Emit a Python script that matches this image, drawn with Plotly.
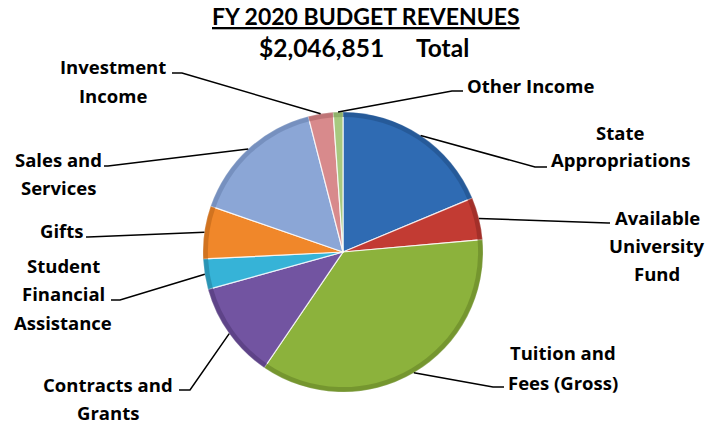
import math
import plotly.graph_objects as go

# Revenue sources, in thousands of dollars
categories = [
    "State Appropriations",
    "Available University Fund",
    "Tuition and Fees (Gross)",
    "Contracts and Grants",
    "Student Financial Assistance",
    "Gifts",
    "Sales and Services",
    "Investment Income",
    "Other Income",
]
values = [383000, 100000, 735000, 229000, 72000, 125000, 321000, 59000, 22851]
label_lines = [
    ["State", "Appropriations"],
    ["Available", "University", "Fund"],
    ["Tuition and", "Fees (Gross)"],
    ["Contracts and", "Grants"],
    ["Student", "Financial", "Assistance"],
    ["Gifts"],
    ["Sales and", "Services"],
    ["Investment", "Income"],
    ["Other Income"],
]
colors = ["#2F6BB3", "#C23B33", "#8CB23C", "#7254A1", "#36B3D7",
          "#F0872A", "#8BA6D6", "#D88A8C", "#A7C97F"]
rim_colors = ["#23548F", "#962B25", "#6C8B2A", "#563D7E", "#2689A7",
              "#C56B1C", "#6E88B6", "#B56B6D", "#86A862"]

W, H = 709, 424
CX, CY, R = 343, 252, 140  # pie centre and radius, px

# leader lines and label text: (elbow x, elbow y, tick end x, text centre x, first line y, line gap)
placement = [
    (535, 167, 547, 620, 133, 26),
    (608, 223, 610, 657, 217, 28),
    (493, 387, 504, 563, 352, 30),
    (190, 390, 179, 108, 384, 28),
    (120, 300, 111, 63, 265, 28.5),
    (88, 237, 86, 61, 230, 0),
    (108, 166, 104, 58, 159, 28),
    (182, 73, 172, 113, 67, 28),
    (452, 91, 463, 530, 85, 0),
]

LABEL_FONT = dict(family="'Open Sans', sans-serif", size=18.5, color="black")
TITLE_FONT = dict(family="Lato, sans-serif", size=23, color="black")
TOTAL_FONT = dict(family="Lato, sans-serif", size=24.5, color="black")


def px(x):
    return x / W


def py(y):
    return 1 - y / H


domain = dict(x=[px(CX - R), px(CX + R)], y=[py(CY + R), py(CY - R)])

fig = go.Figure()
fig.add_trace(go.Pie(
    labels=categories,
    values=values,
    sort=False,
    direction="clockwise",
    rotation=0,
    marker=dict(colors=colors, line=dict(color="rgba(255,255,255,0.8)", width=1.2)),
    textinfo="none",
    hoverinfo="label+value+percent",
    domain=domain,
    showlegend=False,
))
# darker outer rim for a bevelled look
fig.add_trace(go.Pie(
    labels=categories,
    values=values,
    sort=False,
    direction="clockwise",
    rotation=0,
    hole=0.965,
    marker=dict(colors=rim_colors, line=dict(width=0)),
    opacity=0.7,
    textinfo="none",
    hoverinfo="skip",
    domain=domain,
    showlegend=False,
))

total = sum(values)
shapes = []
annotations = []
cum = 0
for val, lines, (ex, ey, hx, tx, ty, gap) in zip(values, label_lines, placement):
    mid = (cum + val / 2) / total * 2 * math.pi
    cum += val
    sx = CX + R * math.sin(mid)
    sy = CY - R * math.cos(mid)
    shapes.append(dict(
        type="path", xref="paper", yref="paper",
        path=f"M {px(sx)} {py(sy)} L {px(ex)} {py(ey)} L {px(hx)} {py(ey)}",
        line=dict(color="black", width=1.5),
    ))
    for i, line in enumerate(lines):
        annotations.append(dict(
            x=px(tx), y=py(ty + i * gap), xref="paper", yref="paper",
            text=f"<b>{line}</b>", showarrow=False,
            xanchor="center", yanchor="middle", font=LABEL_FONT,
        ))

annotations.append(dict(
    x=px(366), y=py(16.5), xref="paper", yref="paper",
    text="<b><u>FY 2020 BUDGET REVENUES</u></b>",
    showarrow=False, xanchor="center", yanchor="middle", font=TITLE_FONT,
))
annotations.append(dict(
    x=px(321), y=py(47.5), xref="paper", yref="paper",
    text=f"<b>${total:,}</b>",
    showarrow=False, xanchor="center", yanchor="middle", font=TOTAL_FONT,
))
annotations.append(dict(
    x=px(442), y=py(47.5), xref="paper", yref="paper",
    text="<b>Total</b>",
    showarrow=False, xanchor="center", yanchor="middle", font=TOTAL_FONT,
))

fig.update_layout(
    width=W, height=H,
    margin=dict(l=0, r=0, t=0, b=0),
    paper_bgcolor="white", plot_bgcolor="white",
    shapes=shapes, annotations=annotations,
)
fig.write_html("out.html")
